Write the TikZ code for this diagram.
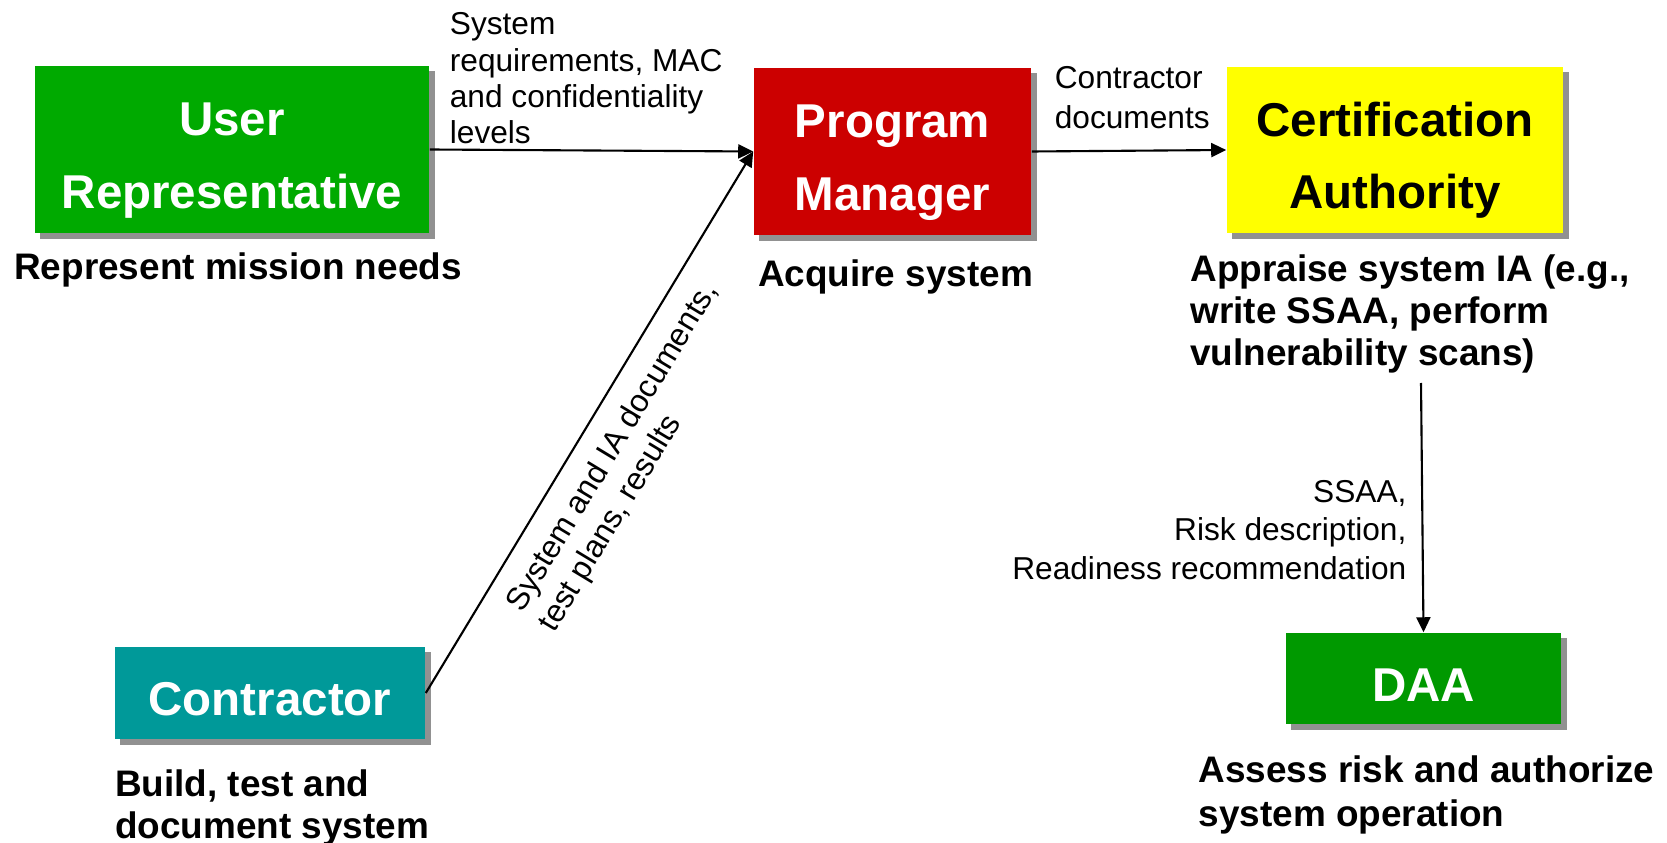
\documentclass[tikz,border=0pt]{standalone}
\usepackage{fontspec}
\setmainfont{Liberation Sans}
\usetikzlibrary{positioning,shadows,arrows.meta}

\definecolor{usergreen}{HTML}{00AA00}
\definecolor{daagreen}{HTML}{009900}
\definecolor{pmred}{HTML}{CC0000}
\definecolor{cayellow}{HTML}{FFFF00}
\definecolor{contteal}{HTML}{009999}
\definecolor{shadowgray}{HTML}{919191}

\begin{document}
\begin{tikzpicture}[x=0.01cm, y=-0.01cm]

    % Styles
    \tikzstyle{box} = [rectangle, align=center, inner sep=0pt, text=white, font=\fontsize{13.5}{20.5}\selectfont\bfseries, drop shadow={shadow xshift=0.055cm, shadow yshift=-0.055cm, fill=shadowgray, opacity=1}]
    \tikzstyle{tallbox} = [box, minimum height=1.67cm, text height=1.17cm, text depth=0cm]
    \tikzstyle{flatbox} = [box, minimum height=0.91cm, text height=0.45cm, text depth=0cm]
    \tikzstyle{caption} = [align=left, inner sep=0pt, font=\fontsize{10.5}{12}\selectfont\bfseries]
    \tikzstyle{flow} = [align=left, inner sep=0pt, font=\fontsize{9}{10.6}\selectfont]
    \tikzstyle{arrow} = [line width=0.6pt, ->, >={Triangle[length=0.15cm, width=0.14cm]}]

    \useasboundingbox (0,0) rectangle (1667,843);

    % Boxes
    \node (user) [tallbox, fill=usergreen, minimum width=3.94cm] at (232,149.5) {User\\Representative};
    \node (pm) [tallbox, fill=pmred, minimum width=2.77cm] at (892.5,151.5) {Program\\Manager};
    \node (ca) [tallbox, fill=cayellow, text=black, minimum width=3.36cm, minimum height=1.66cm] at (1395,150) {Certification\\Authority};
    \node (contractor) [flatbox, fill=contteal, minimum width=3.10cm, minimum height=0.92cm] at (270,693) {Contractor};
    \node (daa) [flatbox, fill=daagreen, minimum width=2.75cm] at (1423.5,678.5) {DAA};

    % Captions
    \node (usercap) [caption, below=0.18cm of user, xshift=0.06cm] {Represent mission needs};
    \node (pmcap) [caption, below=0.23cm of pm, xshift=0.03cm] {Acquire system};
    \node (cacap) [caption, below=0.20cm of ca, xshift=0.15cm] {Appraise system IA (e.g.,\\write SSAA, perform\\vulnerability scans)};
    \node (contcap) [caption, below=0.29cm of contractor, xshift=0.02cm] {Build, test and\\document system};
    \node (daacap) [caption, below=0.30cm of daa, xshift=0.03cm, font=\fontsize{10.5}{12.5}\selectfont\bfseries] {Assess risk and authorize\\system operation};

    % Arrows
    \coordinate (risktop) at (1421,383);
    \draw [arrow] (user.east) -- node[flow, anchor=south west, pos=0, xshift=0.19cm, yshift=0.045cm, font=\fontsize{9}{10.3}\selectfont] {System\\requirements, MAC\\and confidentiality\\levels} (pm.west);
    \draw [arrow] (contractor.east) -- node[flow, sloped, below, pos=0.485, inner sep=0.18cm] {System and IA documents,\\test plans, results} (pm.west);
    \draw [arrow] (pm.east) -- node[flow, anchor=south west, pos=0, xshift=0.22cm, yshift=0.215cm, font=\fontsize{9}{11.4}\selectfont] {Contractor\\documents} (ca.west);
    \draw [arrow] (risktop) -- node[flow, align=right, anchor=east, pos=0.59, xshift=-0.15cm, font=\fontsize{9}{10.9}\selectfont] {SSAA,\\Risk description,\\Readiness recommendation} (daa.north);

\end{tikzpicture}
\end{document}
